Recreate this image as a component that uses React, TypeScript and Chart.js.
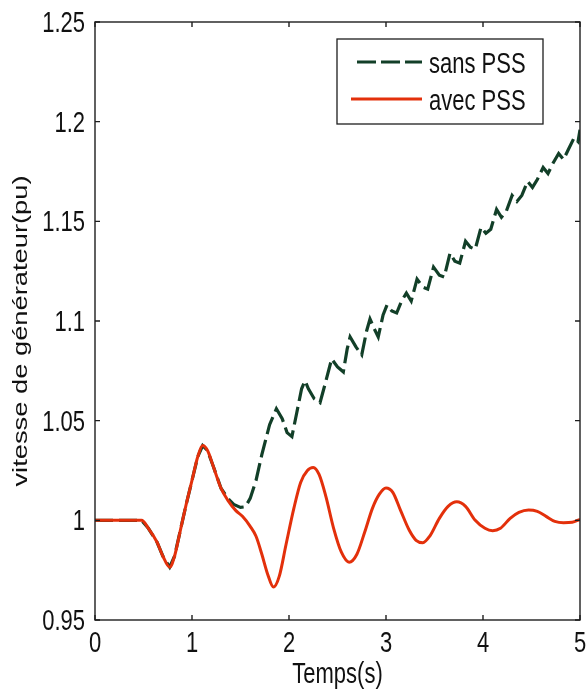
import React, { useEffect, useRef } from "react";
import { Chart, registerables } from "chart.js";

Chart.register(...registerables);

// ---- data ----
const timeAvec = [0, 0.48, 0.55, 0.64, 0.7, 0.77, 0.82, 0.88, 0.94, 1.0, 1.06, 1.11, 1.16, 1.22, 1.3, 1.37, 1.45, 1.52, 1.6, 1.66, 1.72, 1.78, 1.84, 1.9, 1.97, 2.05, 2.12, 2.19, 2.25, 2.31, 2.38, 2.46, 2.54, 2.62, 2.7, 2.78, 2.86, 2.93, 3.0, 3.07, 3.15, 3.24, 3.31, 3.38, 3.45, 3.55, 3.64, 3.73, 3.82, 3.92, 4.02, 4.1, 4.18, 4.28, 4.37, 4.47, 4.56, 4.65, 4.74, 4.83, 4.92, 5.0];
const vitesseAvec = [1.0, 1.0, 0.996, 0.989, 0.982, 0.9765, 0.982, 0.995, 1.008, 1.02, 1.032, 1.0375, 1.035, 1.027, 1.016, 1.01, 1.005, 1.002, 0.997, 0.992, 0.983, 0.973, 0.9665, 0.972, 0.988, 1.006, 1.019, 1.025, 1.0265, 1.023, 1.012, 0.996, 0.984, 0.979, 0.983, 0.994, 1.006, 1.013, 1.0162, 1.014, 1.005, 0.995, 0.99, 0.9888, 0.992, 1.001, 1.007, 1.0093, 1.007, 1.0, 0.996, 0.9948, 0.996, 1.001, 1.004, 1.0052, 1.0045, 1.002, 0.9995, 0.9988, 0.999, 1.0005];

const timeSans = [0, 0.48, 0.55, 0.64, 0.7, 0.77, 0.82, 0.88, 0.94, 1.0, 1.06, 1.11, 1.16, 1.22, 1.3, 1.37, 1.43, 1.5, 1.55, 1.6, 1.66, 1.72, 1.8, 1.87, 1.93, 1.98, 2.03, 2.08, 2.13, 2.165, 2.2, 2.26, 2.32, 2.37, 2.44, 2.5, 2.56, 2.6, 2.63, 2.69, 2.75, 2.8, 2.835, 2.88, 2.92, 2.97, 3.01, 3.06, 3.11, 3.16, 3.21, 3.26, 3.32, 3.38, 3.43, 3.49, 3.55, 3.6, 3.66, 3.71, 3.76, 3.82, 3.87, 3.92, 3.98, 4.03, 4.08, 4.14, 4.19, 4.24, 4.3, 4.35, 4.4, 4.46, 4.51, 4.56, 4.62, 4.67, 4.72, 4.78, 4.83, 4.88, 4.94, 4.98, 5.0];
const vitesseSans = [1.0, 1.0, 0.996, 0.989, 0.982, 0.9765, 0.982, 0.995, 1.008, 1.02, 1.032, 1.0375, 1.035, 1.027, 1.016, 1.011, 1.008, 1.0065, 1.0068, 1.011, 1.02, 1.033, 1.048, 1.056, 1.051, 1.044, 1.042, 1.054, 1.066, 1.07, 1.066, 1.061, 1.059, 1.068, 1.081, 1.077, 1.0745, 1.086, 1.092, 1.087, 1.083, 1.095, 1.101, 1.096, 1.092, 1.103, 1.108, 1.105, 1.104, 1.11, 1.114, 1.11, 1.121, 1.117, 1.116, 1.127, 1.123, 1.122, 1.134, 1.13, 1.129, 1.14, 1.137, 1.136, 1.147, 1.144, 1.146, 1.156, 1.152, 1.155, 1.163, 1.16, 1.163, 1.17, 1.167, 1.171, 1.177, 1.174, 1.179, 1.184, 1.181, 1.186, 1.192, 1.19, 1.196];

const xTicks = [0, 1, 2, 3, 4, 5];
const xTickLabels = ["0", "1", "2", "3", "4", "5"];
const yTicks = [0.95, 1.0, 1.05, 1.1, 1.15, 1.2, 1.25];
const yTickLabels = ["0.95", "1", "1.05", "1.1", "1.15", "1.2", "1.25"];

const seriesNames = ["sans PSS", "avec PSS"];
const xTitle = "Temps(s)";
const yTitle = "vitesse de générateur(pu)";

const GREEN = "#123f28";
const RED = "#e3300b";
const FONT = '"Liberation Sans", Arial, Helvetica, sans-serif';

function scaledText(ctx: CanvasRenderingContext2D, text: string, x: number, y: number, align: CanvasTextAlign, size: number, sy: number) {
  ctx.save();
  ctx.translate(x, y);
  ctx.scale(1, sy);
  ctx.font = `${size}px ${FONT}`;
  ctx.textAlign = align;
  ctx.textBaseline = "alphabetic";
  ctx.fillText(text, 0, 0);
  ctx.restore();
}

const decorPlugin = {
  id: "matlabDecor",
  afterDraw(chart: any) {
    const { ctx, chartArea } = chart;
    const { left, right, top, bottom } = chartArea;
    const xs = chart.scales.x;
    const ys = chart.scales.y;
    ctx.save();
    ctx.strokeStyle = "#1e1e1e";
    ctx.lineWidth = 1.4;
    ctx.strokeRect(left, top, right - left, bottom - top);
    ctx.beginPath();
    xTicks.forEach((v) => {
      const px = xs.getPixelForValue(v);
      ctx.moveTo(px, bottom);
      ctx.lineTo(px, bottom - 5);
      ctx.moveTo(px, top);
      ctx.lineTo(px, top + 5);
    });
    yTicks.forEach((v) => {
      const py = ys.getPixelForValue(v);
      ctx.moveTo(left, py);
      ctx.lineTo(left + 5, py);
      ctx.moveTo(right, py);
      ctx.lineTo(right - 5, py);
    });
    ctx.stroke();

    ctx.fillStyle = "#111";
    const S = 22;
    const SY = 1.3;
    yTicks.forEach((v, i) => {
      const py = ys.getPixelForValue(v);
      scaledText(ctx, yTickLabels[i], left - 10, py + 10, "right", S, SY);
    });
    xTicks.forEach((v, i) => {
      const px = xs.getPixelForValue(v);
      scaledText(ctx, xTickLabels[i], px, bottom + 32, "center", S, SY);
    });
    scaledText(ctx, xTitle, (left + right) / 2, bottom + 63, "center", S, SY);

    // y title, stretched along its length
    ctx.save();
    ctx.translate(27, 331);
    ctx.rotate(-Math.PI / 2);
    ctx.scale(SY, 1);
    ctx.font = `21px ${FONT}`;
    ctx.textAlign = "center";
    ctx.textBaseline = "alphabetic";
    ctx.fillText(yTitle, 0, 0);
    ctx.restore();

    // legend
    const bx = right - 243;
    const by = top + 17;
    const bw = 206;
    const bh = 85;
    ctx.fillStyle = "#fff";
    ctx.fillRect(bx, by, bw, bh);
    ctx.strokeStyle = "#1e1e1e";
    ctx.lineWidth = 1.3;
    ctx.strokeRect(bx, by, bw, bh);

    ctx.lineWidth = 3.2;
    ctx.strokeStyle = GREEN;
    ctx.setLineDash([19, 5]);
    ctx.beginPath();
    ctx.moveTo(bx + 20, by + 23);
    ctx.lineTo(bx + 85, by + 23);
    ctx.stroke();
    ctx.setLineDash([]);
    ctx.strokeStyle = RED;
    ctx.beginPath();
    ctx.moveTo(bx + 14, by + 60);
    ctx.lineTo(bx + 85, by + 60);
    ctx.stroke();

    ctx.fillStyle = "#111";
    scaledText(ctx, seriesNames[0], bx + 92, by + 34, "left", S, SY);
    scaledText(ctx, seriesNames[1], bx + 92, by + 71, "left", S, SY);
    ctx.restore();
  },
};

export default function App() {
  const canvasRef = useRef<HTMLCanvasElement | null>(null);

  useEffect(() => {
    const canvas = canvasRef.current;
    if (!canvas) return;
    const chart = new Chart(canvas, {
      type: "line",
      data: {
        datasets: [
          {
            label: seriesNames[1],
            data: timeAvec.map((t, i) => ({ x: t, y: vitesseAvec[i] })),
            borderColor: RED,
            borderWidth: 3,
            pointRadius: 0,
            cubicInterpolationMode: "monotone",
            fill: false,
            order: 0,
          },
          {
            label: seriesNames[0],
            data: timeSans.map((t, i) => ({ x: t, y: vitesseSans[i] })),
            borderColor: GREEN,
            borderWidth: 3.2,
            borderDash: [18, 6],
            pointRadius: 0,
            tension: 0,
            fill: false,
            order: 1,
          },
        ],
      },
      options: {
        responsive: false,
        animation: false,
        layout: { padding: { left: 95, right: 7, top: 22, bottom: 73 } },
        plugins: { legend: { display: false }, tooltip: { enabled: false } },
        scales: {
          x: { type: "linear", min: 0, max: 5, display: false },
          y: { type: "linear", min: 0.95, max: 1.25, display: false },
        },
      },
      plugins: [decorPlugin],
    });
    return () => chart.destroy();
  }, []);

  return (
    <div style={{ position: "absolute", left: 0, top: 0, width: 587, height: 693, background: "#fff" }}>
      <canvas ref={canvasRef} width={587} height={693} style={{ display: "block" }} />
    </div>
  );
}
